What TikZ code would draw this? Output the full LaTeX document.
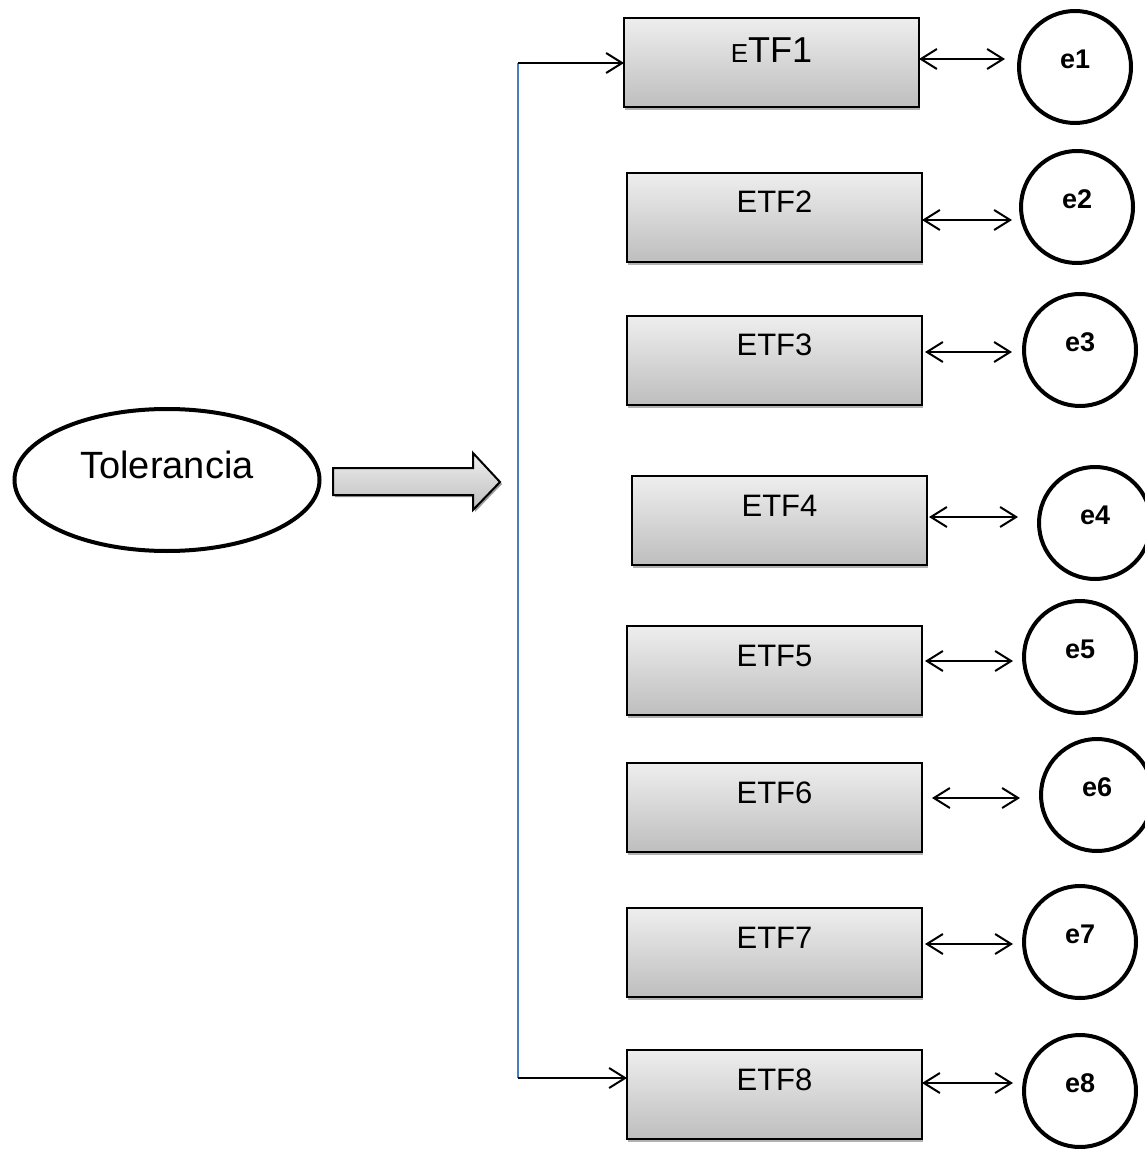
\documentclass[tikz,border=0pt]{standalone}
\usepackage{fontspec}
\setmainfont{Liberation Sans}
\usepackage{tikz}
\usetikzlibrary{arrows.meta, shapes.geometric, shadows}
\definecolor{boxtop}{HTML}{EEEEEE}
\definecolor{boxbottom}{HTML}{BEBEBE}
\definecolor{linkblue}{HTML}{4A7EBB}

\begin{document}
\begin{tikzpicture}[
    x=0.5pt, y=-0.5pt,
    every node/.style={font=\fontsize{15.5}{18}\selectfont},
    item/.style={draw, line width=1pt, top color=boxtop, bottom color=boxbottom, minimum width=147.5pt, minimum height=44.5pt, inner sep=0pt, outer sep=0pt, text height=5pt, text depth=9.5pt, drop shadow={shadow xshift=0.5pt, shadow yshift=-1.5pt, fill=black!30, opacity=1}},
    errnode/.style={circle, draw, line width=2pt, minimum size=56pt, inner sep=0pt, outer sep=0pt, font=\fontsize{13.5}{16}\selectfont\bfseries, text height=5pt, text depth=3.5pt},
    factor/.style={ellipse, draw, line width=2pt, minimum width=152.5pt, minimum height=71pt, inner sep=0pt, font=\fontsize{19}{22}\selectfont, text height=5pt, text depth=7pt},
    arrow/.style={-{Straight Barb[length=8pt, width=10pt]}, line width=1pt},
    dbl/.style={{Straight Barb[length=8pt, width=10pt]}-{Straight Barb[length=8pt, width=10pt]}, line width=1pt}
]
    \useasboundingbox (0,0) rectangle (1144,1149);

    % latent factor and block arrow
    \node[factor] (tol) at (167,480) {Tolerancia};
    \path[draw, line width=1pt, top color=boxtop, bottom color=boxbottom, drop shadow={shadow xshift=1pt, shadow yshift=-1pt, fill=black!40, opacity=1}]
        (333,468) -- (473,468) -- (473,453) -- (500,482) -- (473,510) -- (473,495) -- (333,495) -- cycle;

    % indicators
    \node[item, text depth=5pt] (etf1) at (771.5,62.5) {{\fontsize{13}{15}\selectfont E}{\fontsize{18}{21}\selectfont TF1}};
    \foreach \i/\x/\y in {2/774.5/217.5, 3/774.5/360.5, 4/779.5/520.5, 5/774.5/670.5, 6/774.5/807.5, 7/774.5/952.5, 8/774.5/1094.5}
        \node[item] (etf\i) at (\x,\y) {ETF\i};

    % error terms
    \foreach \i/\x/\y in {1/1075/67, 2/1077/207, 3/1080/350, 4/1095/523, 5/1080/657, 6/1097/795, 7/1080/942, 8/1080/1091}
        \node[errnode] (e\i) at (\x,\y) {e\i};

    % bracket from factor to items
    \coordinate (top) at (518,63);
    \coordinate (bot) at (518,1078);
    \draw[linkblue, line width=0.75pt] (top) -- (bot);
    \draw[arrow] (top) -- (top -| etf1.west);
    \draw[arrow] (bot) -- (bot -| etf8.west);

    % item <-> error
    \foreach \i/\dy/\s/\t in {1/1.75/0/7, 2/-1.25/0/4.5, 3/4.25/1.5/6, 4/1.75/1/10.5, 5/4.75/1.5/5.5, 6/4.75/5/10.5, 7/4.25/1.5/5.5, 8/5.75/0/5.5}
        \draw[dbl, shorten <=\s pt, shorten >=\t pt] ([yshift=\dy pt]etf\i.east) coordinate (p) -- (p -| e\i.west);
\end{tikzpicture}
\end{document}
